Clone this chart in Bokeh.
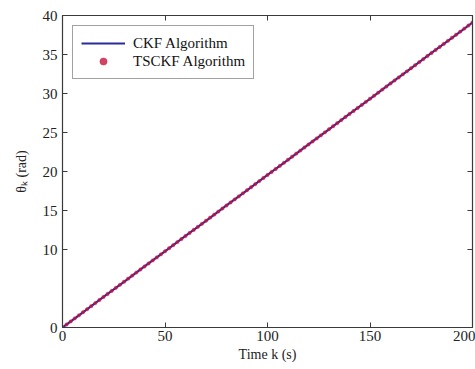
from bokeh.plotting import figure
from bokeh.models import (Range1d, LinearAxis, FixedTicker, Legend, LegendItem)
from bokeh.embed import file_html
from bokeh.resources import INLINE

# ---- data ----
k_ckf = [0, 10, 20, 30, 40, 50, 60, 70, 80, 90, 100, 110, 120, 130, 140, 150,
         160, 170, 180, 190, 200]
theta_ckf = [0.00, 1.95, 3.92, 5.86, 7.83, 9.77, 11.74, 13.68, 15.65, 17.59,
             19.56, 21.50, 23.47, 25.41, 27.38, 29.32, 31.29, 33.23, 35.20,
             37.14, 39.10]

k_tsckf = list(range(0, 201, 2))
theta_tsckf = [
    0.00, 0.39, 0.78, 1.17, 1.56, 1.96, 2.35, 2.74, 3.13, 3.52,
    3.91, 4.30, 4.69, 5.08, 5.47, 5.87, 6.26, 6.65, 7.04, 7.43,
    7.82, 8.21, 8.60, 8.99, 9.38, 9.78, 10.17, 10.56, 10.95, 11.34,
    11.73, 12.12, 12.51, 12.90, 13.29, 13.69, 14.08, 14.47, 14.86, 15.25,
    15.64, 16.03, 16.42, 16.81, 17.20, 17.60, 17.99, 18.38, 18.77, 19.16,
    19.55, 19.94, 20.33, 20.72, 21.11, 21.51, 21.90, 22.29, 22.68, 23.07,
    23.46, 23.85, 24.24, 24.63, 25.02, 25.42, 25.81, 26.20, 26.59, 26.98,
    27.37, 27.76, 28.15, 28.54, 28.93, 29.33, 29.72, 30.11, 30.50, 30.89,
    31.28, 31.67, 32.06, 32.45, 32.84, 33.24, 33.63, 34.02, 34.41, 34.80,
    35.19, 35.58, 35.97, 36.36, 36.75, 37.15, 37.54, 37.93, 38.32, 38.71,
    39.10]

x_ticks = [0, 50, 100, 150, 200]
y_ticks = [0, 10, 15, 20, 25, 30, 35, 40]

FONT = "Liberation Serif"
AX = "#3a3a3a"

p = figure(width=475, height=369, output_backend="svg", toolbar_location=None,
           x_range=Range1d(0, 200), y_range=Range1d(0, 40),
           x_axis_label="Time k (s)", y_axis_label="θₖ (rad)")
p.min_border_left = 62
p.min_border_right = 3
p.min_border_top = 15
p.min_border_bottom = 42
p.background_fill_color = "white"
p.border_fill_color = "white"
p.outline_line_color = AX
p.outline_line_width = 1.2
p.grid.visible = False

for ax, ticks in ((p.xaxis[0], x_ticks), (p.yaxis[0], y_ticks)):
    ax.ticker = FixedTicker(ticks=ticks)
    ax.major_tick_in = 5
    ax.major_tick_out = 0
    ax.minor_tick_in = 0
    ax.minor_tick_out = 0
    ax.axis_line_color = AX
    ax.major_tick_line_color = AX
    ax.major_label_text_font = FONT
    ax.major_label_text_font_size = "15px"
    ax.major_label_text_color = "#222222"
    ax.axis_label_text_font = FONT
    ax.axis_label_text_font_style = "normal"
    ax.axis_label_text_color = "#222222"
p.xaxis.axis_label_text_font_size = "14px"
p.yaxis.axis_label_text_font_size = "14px"
p.xaxis.major_label_standoff = 3
p.xaxis.axis_label_standoff = 3
p.yaxis.major_label_standoff = 5
p.yaxis.axis_label_standoff = 11

# mirrored ticks on top and right (no labels)
top = LinearAxis(ticker=FixedTicker(ticks=x_ticks),
                 major_label_overrides={t: "" for t in x_ticks},
                 major_tick_in=5, major_tick_out=0, minor_tick_in=0, minor_tick_out=0,
                 axis_line_color=AX, major_tick_line_color=AX, major_label_standoff=0)
right = LinearAxis(ticker=FixedTicker(ticks=y_ticks),
                   major_label_overrides={t: "" for t in y_ticks},
                   major_tick_in=5, major_tick_out=0, minor_tick_in=0, minor_tick_out=0,
                   axis_line_color=AX, major_tick_line_color=AX, major_label_standoff=0)
p.add_layout(top, "above")
p.add_layout(right, "right")

r_ckf = p.line(k_ckf, theta_ckf, line_color="#2b2b9a", line_width=2.2)
r_ts = p.scatter(k_tsckf, theta_tsckf, marker="circle", size=3.4,
                 fill_color="#c8143c", line_color="#c8143c", line_width=0.5,
                 fill_alpha=0.8, line_alpha=0.8)

legend = Legend(items=[LegendItem(label="CKF Algorithm", renderers=[r_ckf]),
                       LegendItem(label="TSCKF Algorithm", renderers=[r_ts])],
                location="top_left")
legend.label_text_font = FONT
legend.label_text_font_size = "15px"
legend.label_text_color = "#111111"
legend.border_line_color = "#444444"
legend.border_line_width = 1.5
legend.background_fill_color = "white"
legend.margin = 10
legend.padding = 8
legend.spacing = 0
legend.glyph_width = 44
legend.glyph_height = 18
legend.label_height = 18
legend.label_standoff = 8
p.add_layout(legend)

open("out.html", "w").write(file_html(p, INLINE))
